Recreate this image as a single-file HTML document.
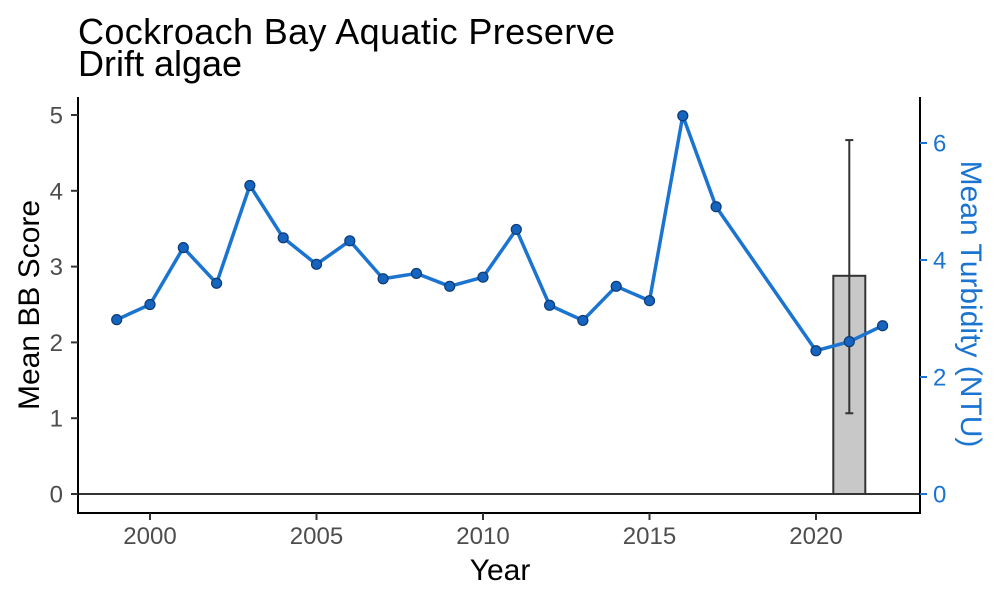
<!DOCTYPE html>
<html><head><meta charset="utf-8"><style>body{margin:0;background:#fff}svg{display:block;font-family:"Liberation Sans",Arial,sans-serif}</style></head>
<body>
<svg id="chart" width="1000" height="600" viewBox="0 0 1000 600"></svg>
<script>
const years=[1999,2000,2001,2002,2003,2004,2005,2006,2007,2008,2009,2010,2011,2012,2013,2014,2015,2016,2017,2020,2021,2022];
const bbScore=[2.30,2.50,3.25,2.78,4.07,3.38,3.03,3.34,2.84,2.91,2.74,2.86,3.49,2.49,2.29,2.74,2.55,4.99,3.79,1.89,2.01,2.22];
const turbYears=[2021];
const turbMean=[3.73];
const turbLow=[1.38];
const turbHigh=[6.05];
const xTicks=[2000,2005,2010,2015,2020];
const yTicks=[0,1,2,3,4,5];
const y2Ticks=[0,2,4,6];
const svg=document.getElementById('chart');
const NS='http://www.w3.org/2000/svg';
const x=v=>150+(v-2000)*33.3;
const y=v=>494-v*75.8;
const y2=v=>494-v*58.5;
function mk(t,a,p){const e=document.createElementNS(NS,t);for(const k in a)e.setAttribute(k,a[k]);(p||svg).appendChild(e);return e;}
function txt(s,a){const e=mk('text',a);e.textContent=s;return e;}
let e;
e=txt('Cockroach Bay Aquatic Preserve',{x:78,y:44,'font-size':36,fill:'#000',textLength:537});

e=txt('Drift algae',{x:78,y:76,'font-size':36,fill:'#000'});

e=mk('line',{x1:78,x2:920,y1:y(0),y2:y(0),stroke:'#333','stroke-width':2});

turbYears.forEach((yr,i)=>{
 e=mk('rect',{x:x(yr)-16,y:y2(turbMean[i]),width:32,height:y2(0)-y2(turbMean[i]),fill:'#c8c8c8',stroke:'#333','stroke-width':2});
 
 e=mk('g',{stroke:'#333','stroke-width':2});
 
 mk('line',{x1:x(yr),x2:x(yr),y1:y2(turbHigh[i]),y2:y2(turbLow[i])},e);
 mk('line',{x1:x(yr)-4,x2:x(yr)+4,y1:y2(turbHigh[i]),y2:y2(turbHigh[i])},e);
 mk('line',{x1:x(yr)-4,x2:x(yr)+4,y1:y2(turbLow[i]),y2:y2(turbLow[i])},e);
});
e=mk('polyline',{points:years.map((yr,i)=>x(yr)+','+y(bbScore[i])).join(' '),fill:'none',stroke:'#1a74d0','stroke-width':3.5,'stroke-linejoin':'round'});

years.forEach((yr,i)=>{
 e=mk('circle',{cx:x(yr),cy:y(bbScore[i]),r:5,fill:'#1565c0',stroke:'#0d3a73','stroke-width':1.2});
 
});
e=mk('g',{stroke:'#000','stroke-width':2});

mk('line',{x1:78,x2:78,y1:97,y2:514},e);
mk('line',{x1:77,x2:921,y1:513,y2:513},e);
mk('line',{x1:920,x2:920,y1:97,y2:514},e);
xTicks.forEach(t=>{
 mk('line',{x1:x(t),x2:x(t),y1:513,y2:520,stroke:'#333','stroke-width':2});
 e=txt(t,{x:x(t),y:544,'font-size':24,fill:'#4d4d4d','text-anchor':'middle'});
 
});
yTicks.forEach(t=>{
 mk('line',{x1:71,x2:78,y1:y(t),y2:y(t),stroke:'#333','stroke-width':2});
 e=txt(t,{x:63,y:y(t)+8.5,'font-size':24,fill:'#4d4d4d','text-anchor':'end'});
 
});
y2Ticks.forEach(t=>{
 mk('line',{x1:920,x2:927,y1:y2(t),y2:y2(t),stroke:'#1a74d0','stroke-width':2});
 e=txt(t,{x:933,y:y2(t)+8.5,'font-size':24,fill:'#1a74d0'});
 
});
e=txt('Year',{x:500,y:580,'font-size':30,fill:'#000','text-anchor':'middle'});

e=txt('Mean BB Score',{x:0,y:0,'font-size':30,fill:'#000','text-anchor':'middle',transform:'translate(39,305) rotate(-90)'});

e=txt('Mean Turbidity (NTU)',{x:0,y:0,'font-size':30,fill:'#1a74d0','text-anchor':'middle',transform:'translate(961,304) rotate(90)'});

</script>
</body></html>
